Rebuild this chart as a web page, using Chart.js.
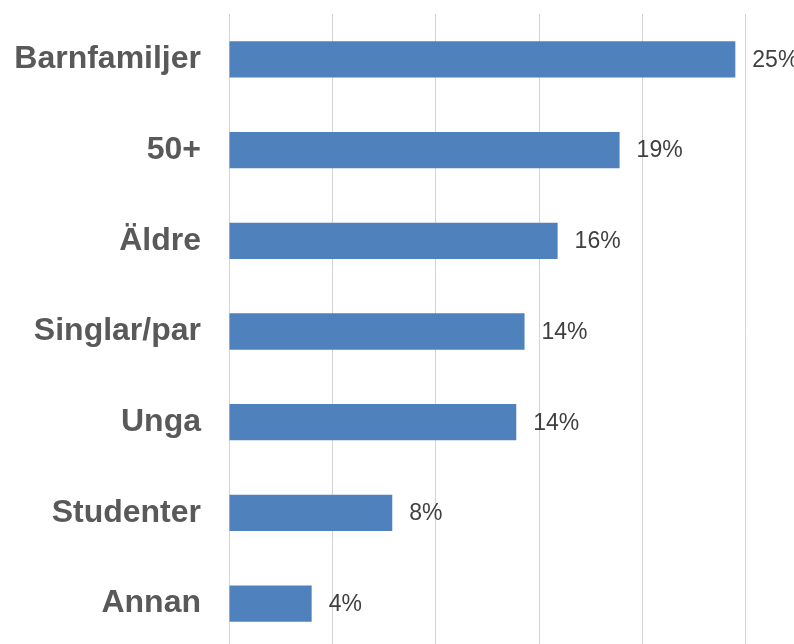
<!DOCTYPE html>
<html lang="sv">
<head>
    <meta charset="UTF-8">
    <title>Målgrupper</title>
    <script src="https://cdn.jsdelivr.net/npm/chart.js"></script>
    <style>
        html, body { margin: 0; padding: 0; background: #fff; overflow: hidden; }
        #wrap { position: absolute; left: 0; top: 0; width: 860px; height: 650px; }
    </style>
</head>
<body>
    <div id="wrap">
        <canvas id="myChartCanvas"></canvas>
    </div>

<script>
    // data
    const kategorier = ['Barnfamiljer', '50+', 'Äldre', 'Singlar/par', 'Unga', 'Studenter', 'Annan'];
    const andel = [24.5, 18.9, 15.9, 14.3, 13.9, 7.9, 4.0];
    const etiketter = ['25%', '19%', '16%', '14%', '14%', '8%', '4%'];

    // text after each bar
    const dataLabels = {
        id: 'dataLabels',
        afterDatasetsDraw(chart) {
            const ctx = chart.ctx;
            const meta = chart.getDatasetMeta(0);
            ctx.save();
            ctx.font = '23px "Liberation Sans", Arial, sans-serif';
            ctx.fillStyle = '#404040';
            ctx.textAlign = 'left';
            ctx.textBaseline = 'middle';
            meta.data.forEach(function (bar, i) {
                ctx.fillText(etiketter[i], bar.x + 17, bar.y + 1);
            });
            ctx.restore();
        }
    };

    const config = {
        type: 'bar',
        data: {
            labels: kategorier,
            datasets: [{
                data: andel,
                backgroundColor: '#4F81BD',
                borderWidth: 0,
                categoryPercentage: 0.8,
                barPercentage: 0.5
            }]
        },
        options: {
            indexAxis: 'y',
            responsive: true,
            maintainAspectRatio: false,
            animation: false,
            layout: { padding: { top: 14, bottom: 1, right: 11, left: 0 } },
            plugins: {
                legend: { display: false },
                tooltip: { enabled: false }
            },
            scales: {
                x: {
                    min: 0,
                    max: 30,
                    ticks: { display: false, stepSize: 5 },
                    grid: { color: '#d4d4d4', lineWidth: 1, drawTicks: false },
                    border: { display: false },
                    afterFit: function (axis) {
                        axis.height = 0;
                        axis.paddingLeft = 0;
                        axis.paddingRight = 0;
                    }
                },
                y: {
                    grid: { display: false, drawTicks: false },
                    border: { display: false },
                    ticks: {
                        color: '#595959',
                        padding: 28,
                        font: { family: '"Liberation Sans", Arial, sans-serif', size: 32, weight: 'bold' }
                    },
                    afterFit: function (axis) {
                        axis.width = 229;
                        axis.paddingTop = 0;
                        axis.paddingBottom = 0;
                    }
                }
            }
        },
        plugins: [dataLabels]
    };

    new Chart(document.getElementById('myChartCanvas'), config);
</script>
</body>
</html>
